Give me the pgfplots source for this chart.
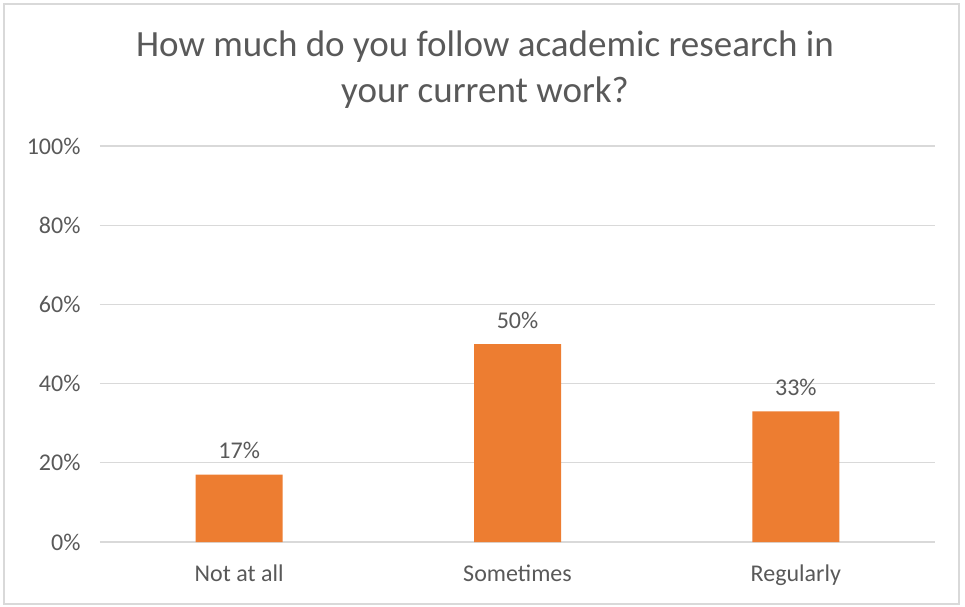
\documentclass[border=0pt]{standalone}
\usepackage{pgfplots}
\pgfplotsset{compat=1.18}
\usepackage{fontspec}
\setmainfont{Carlito}
\definecolor{txt}{HTML}{595959}
\definecolor{grd}{HTML}{D9D9D9}
\definecolor{bar}{HTML}{ED7D31}
\begin{document}
\begin{tikzpicture}[x=1pt,y=1pt]
\path (-100,-64) rectangle (865,542);
\draw[grd, line width=1.3pt] (-96,-62) rectangle (859,538);
\begin{axis}[
  at={(0,0)}, anchor=south west,
  width=835pt, height=396pt, scale only axis,
  xmin=-0.5, xmax=2.5, ymin=0, ymax=100,
  ytick={0,20,...,100},
  yticklabel={\pgfmathprintnumber{\tick}\%},
  xtick={0,1,2},
  xticklabels={Not at all,Sometimes,Regularly},
  axis line style={draw=none},
  ymajorgrids, grid style={grd, line width=1.3pt},
  major tick length=0pt,
  tick label style={txt, font=\fontsize{24}{28}\selectfont},
  yticklabel style={xshift=-16pt},
  xticklabel style={yshift=-19pt},
  /pgf/number format/assume math mode=true,
  ybar, bar width=87pt,
  nodes near coords={\pgfmathprintnumber{\pgfplotspointmeta}\%},
  nodes near coords style={txt, font=\fontsize{24}{28}\selectfont, yshift=12pt},
  clip=false,
]
\addplot[fill=bar, draw=none] coordinates {(0,17) (1,50) (2,33)};
\end{axis}
\node[txt, font=\fontsize{37}{46}\selectfont, align=center] at (385,472) {How much do you follow academic research in\\your current work?};
\end{tikzpicture}
\end{document}
